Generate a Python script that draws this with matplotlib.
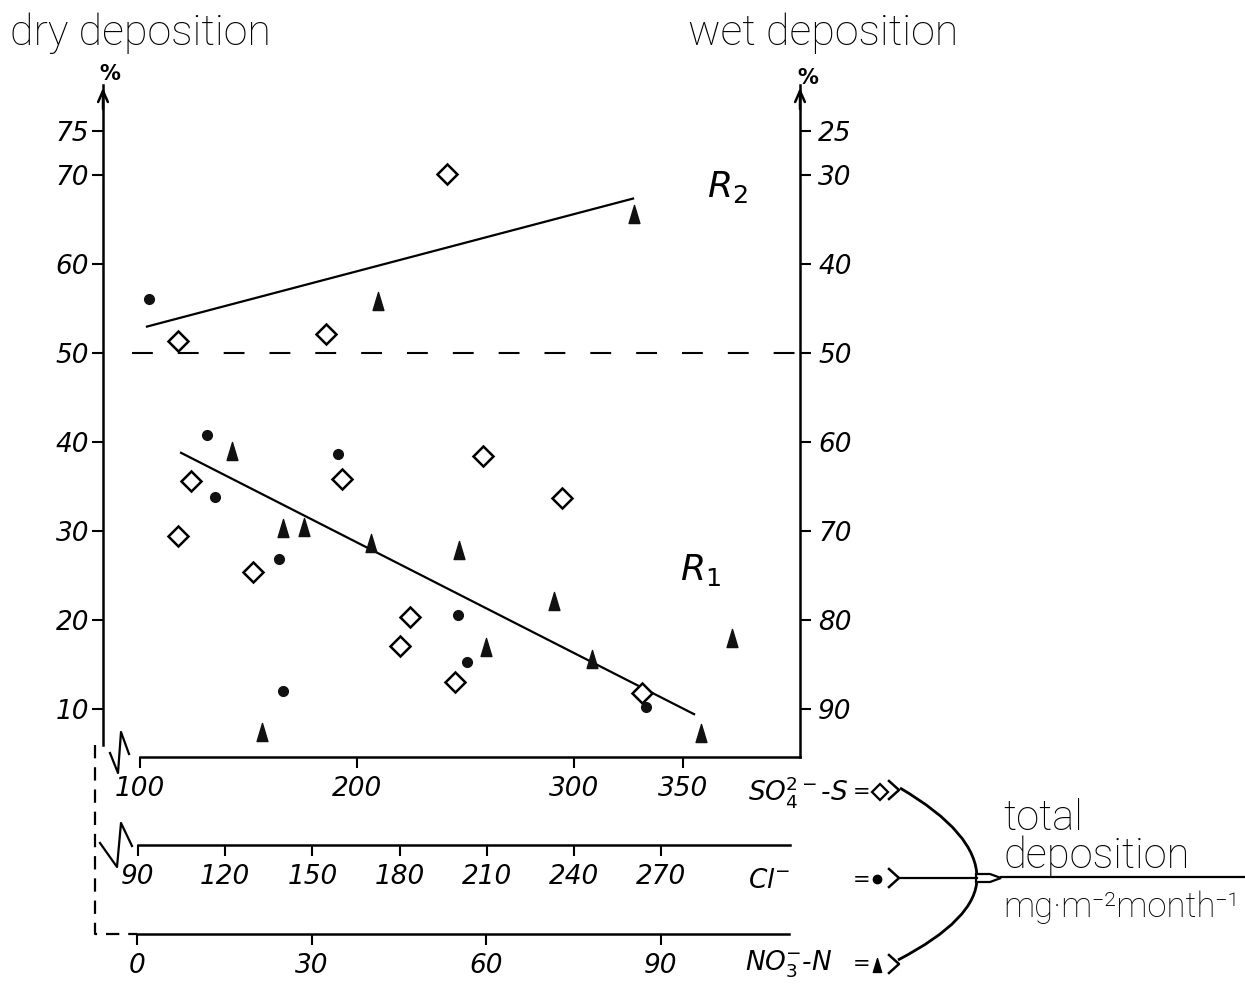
import matplotlib
matplotlib.use('Agg')
import matplotlib.pyplot as plt
from matplotlib.lines import Line2D
from matplotlib.path import Path
from matplotlib.patches import PathPatch, Polygon

# ---------------- data ----------------
so4_x = [241.3, 117.5, 185.6, 258.0, 123.5, 117.5, 193.0, 152.0, 224.3, 219.7, 245.0, 294.3, 331.1]
so4_dry = [70.2, 51.4, 52.2, 38.4, 35.6, 29.4, 35.9, 25.4, 20.3, 17.1, 13.0, 33.7, 11.8]
cl_x = [93.8, 113.7, 116.5, 158.7, 138.5, 139.8, 200.0, 203.1, 264.6]
cl_dry = [56.1, 40.8, 33.8, 38.7, 26.9, 12.0, 20.6, 15.3, 10.2]
no3_x = [41.4, 16.3, 85.4, 25.1, 28.7, 40.2, 55.4, 21.5, 60.0, 71.7, 78.2, 102.3, 97.0]
no3_dry = [55.9, 39.0, 65.7, 30.3, 30.5, 28.7, 27.9, 7.4, 17.0, 22.1, 15.6, 18.0, 7.3]
r1_so4 = [118.9, 355.1]
r1_dry = [38.8, 9.4]
r2_so4 = [103.2, 327.0]
r2_dry = [53.0, 67.4]
dry_ticks = [10, 20, 30, 40, 50, 60, 70, 75]
wet_ticks = [25, 30, 40, 50, 60, 70, 80, 90]
so4_ticks = [100, 200, 300, 350]
cl_ticks = [90, 120, 150, 180, 210, 240, 270]
no3_ticks = [0, 30, 60, 90]

# ---------------- layout ----------------
W, H = 1245, 984
fig = plt.figure(figsize=(W / 100, H / 100), dpi=100)
FONT = ['DejaVu Sans']
TFONT = ['Roboto', 'DejaVu Sans']


def fx(px):
    return px / W


def fy(py):
    return 1 - py / H


AX_L, AX_R, AX_B, AX_T = 103, 800, 757, 85


def dry_at(py):
    return 75 - (py - 131) / 8.89


def so4_at(px):
    return 100 + (px - 140) / 2.172


def cl_at(px):
    return 90 + (px - 138) / 2.908


def no3_at(px):
    return (px - 137) / 5.817


rect = [fx(AX_L), fy(AX_B), fx(AX_R) - fx(AX_L), (AX_B - AX_T) / H]
ylim = (dry_at(AX_B), dry_at(AX_T))

ax = fig.add_axes(rect)
ax.set_xlim(so4_at(AX_L), so4_at(AX_R))
ax.set_ylim(*ylim)
ax.patch.set_alpha(0)
ax.spines['top'].set_visible(False)
ax.spines['right'].set_visible(False)
for s in ['left', 'bottom']:
    ax.spines[s].set_linewidth(1.8)
ax.spines['left'].set_bounds(dry_at(745), ylim[1])
ax.spines['bottom'].set_bounds(100, so4_at(AX_R))
ax.set_yticks(dry_ticks)
ax.set_xticks(so4_ticks)
ax.tick_params(axis='y', direction='out', length=8, width=1.5, labelsize=19, pad=2)
ax.tick_params(axis='x', direction='out', length=8, width=1.5, labelsize=19, pad=6)
for lab in ax.get_yticklabels() + ax.get_xticklabels():
    lab.set_fontfamily(FONT)
    lab.set_fontstyle('italic')

sec = ax.secondary_yaxis('right', functions=(lambda d: 100 - d, lambda w: 100 - w))
sec.set_yticks(wet_ticks)
sec.spines['right'].set_linewidth(1.8)
sec.tick_params(direction='out', length=8, width=1.5, labelsize=19, pad=5)
for lab in sec.get_yticklabels():
    lab.set_fontfamily(FONT)
    lab.set_fontstyle('italic')

# arrows on vertical axes
for xa in (0, 1):
    ax.annotate('', xy=(xa, 1.0), xycoords='axes fraction', xytext=(xa, 0.96),
                arrowprops=dict(arrowstyle='->,head_width=0.35,head_length=0.8', lw=1.8, color='k'))
fig.text(fx(110), fy(80), '%', fontsize=15, fontweight='bold', ha='center', va='baseline')
fig.text(fx(808), fy(84), '%', fontsize=15, fontweight='bold', ha='center', va='baseline')

# 50 % dashed line
ax.plot([so4_at(132), so4_at(AX_R)], [50, 50], color='k', lw=1.5, ls=(0, (10, 12)))

# regression lines
ax.plot(r1_so4, r1_dry, color='k', lw=1.6)
ax.plot(r2_so4, r2_dry, color='k', lw=1.6)
ax.text(so4_at(727), dry_at(187), r'$R_2$', fontsize=26,
        ha='center', va='center')
ax.text(so4_at(700), dry_at(570), r'$R_1$', fontsize=26,
        ha='center', va='center')

# markers
tri = Path([(-0.3, -0.5), (0.3, -0.5), (0, 0.5), (-0.3, -0.5)],
           [Path.MOVETO, Path.LINETO, Path.LINETO, Path.CLOSEPOLY])
ax.plot(so4_x, so4_dry, ls='none', marker='D', ms=10.5, mfc='white', mec='black', mew=1.8, zorder=5)

ax_cl = fig.add_axes(rect)
ax_cl.set_xlim(cl_at(AX_L), cl_at(AX_R))
ax_cl.set_ylim(*ylim)
ax_cl.axis('off')
ax_cl.plot(cl_x, cl_dry, ls='none', marker='o', ms=7, color='#111111', zorder=5)

ax_no = fig.add_axes(rect)
ax_no.set_xlim(no3_at(AX_L), no3_at(AX_R))
ax_no.set_ylim(*ylim)
ax_no.axis('off')
ax_no.plot(no3_x, no3_dry, ls='none', marker=tri, ms=13, color='#111111', zorder=5)


# lower scale axes
def scale_axis(py, lo, hi, ticks, end_v):
    a = fig.add_axes([rect[0], fy(py), rect[2], 0.0001])
    a.set_xlim(lo, hi)
    a.set_ylim(0, 1)
    a.patch.set_alpha(0)
    for s in ['left', 'right', 'top']:
        a.spines[s].set_visible(False)
    a.spines['bottom'].set_linewidth(1.8)
    a.spines['bottom'].set_bounds(ticks[0], end_v)
    a.set_yticks([])
    a.set_xticks(ticks)
    a.tick_params(axis='x', direction='out', length=8, width=1.5, labelsize=19, pad=6)
    for lab in a.get_xticklabels():
        lab.set_fontfamily(FONT)
        lab.set_fontstyle('italic')
    return a


scale_axis(845, cl_at(AX_L), cl_at(AX_R), cl_ticks, cl_at(790))
scale_axis(934, no3_at(AX_L), no3_at(AX_R), no3_ticks, no3_at(789))


def fline(pts, **kw):
    xs = [fx(p[0]) for p in pts]
    ys = [fy(p[1]) for p in pts]
    fig.add_artist(Line2D(xs, ys, transform=fig.transFigure, color='k', **kw))


# axis breaks
fline([(110, 753), (118, 773), (121, 732), (129, 754)], lw=1.6)
fline([(100, 843), (117, 867), (121, 823), (132, 846)], lw=1.6)
fline([(95, 745), (95, 934), (137, 934)], lw=1.6, ls=(0, (6, 4)))

# titles
fig.text(fx(10), fy(45), 'dry deposition', fontsize=31, family=TFONT, fontweight='light',
         va='baseline')
fig.text(fx(688), fy(45), 'wet deposition', fontsize=31, family=TFONT, fontweight='light',
         va='baseline')

# key on the right
fig.text(fx(748), fy(800), r'SO$_4^{2-}$-S', fontsize=19, fontstyle='italic', family=FONT, va='baseline')
fig.text(fx(748), fy(888), r'Cl$^{-}$', fontsize=19, fontstyle='italic', family=FONT, va='baseline')
fig.text(fx(745), fy(970), r'NO$_3^{-}$-N', fontsize=19, fontstyle='italic', family=FONT, va='baseline')
for yy in (792, 880, 964):
    fig.text(fx(862), fy(yy), '=', fontsize=15, ha='center', va='center')
fig.add_artist(Line2D([fx(880)], [fy(792)], transform=fig.transFigure, marker='D', ms=8,
                      mfc='white', mec='k', mew=1.6))
fig.add_artist(Line2D([fx(877)], [fy(879)], transform=fig.transFigure, marker='o', ms=6, color='k'))
fig.add_artist(Line2D([fx(877)], [fy(965)], transform=fig.transFigure, marker=tri, ms=10, color='k'))
for yy in (790, 878, 964):
    fline([(889, yy - 9), (899, yy), (889, yy + 9)], lw=1.8)

# brace curves
for p0, p1 in (((900, 788), (977, 833)), ((898, 960), (977, 919))):
    path = Path([(fx(p0[0]), fy(p0[1])), (fx(p1[0]), fy(p1[1])), (fx(977), fy(878))],
                [Path.MOVETO, Path.CURVE3, Path.CURVE3])
    fig.add_artist(PathPatch(path, transform=fig.transFigure, fc='none', ec='k', lw=2))
fline([(899, 878), (977, 878)], lw=1.6)
fig.add_artist(Polygon([(fx(976), fy(874)), (fx(990), fy(874)), (fx(1001), fy(878)),
                        (fx(990), fy(882)), (fx(976), fy(882))], closed=True,
                       transform=fig.transFigure, fc='white', ec='k', lw=1.6))
fline([(1001, 877), (1245, 877)], lw=1.6)
fig.text(fx(1003), fy(868), 'total\ndeposition', fontsize=30, family=TFONT, fontweight='light',
         va='baseline', linespacing=0.88)
fig.text(fx(1003), fy(917), 'mg·m⁻²month⁻¹', fontsize=25, family=TFONT, fontweight='light',
         va='baseline')

fig.savefig('out.png', dpi=100)
